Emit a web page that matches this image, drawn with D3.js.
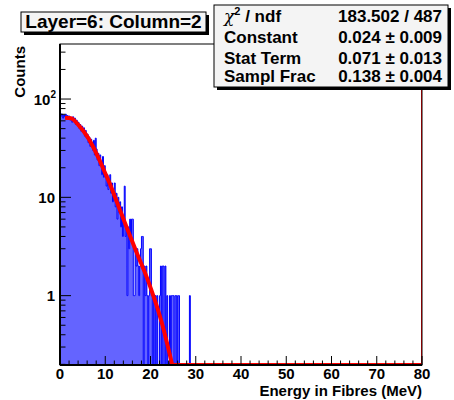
<!DOCTYPE html>
<html>
<head>
<meta charset="utf-8">
<script src="https://cdn.jsdelivr.net/npm/d3@7"></script>
<style>
  body { margin: 0; background: #fff; }
  svg { display: block; }
  text { font-family: "Liberation Sans", Arial, Helvetica, sans-serif; font-weight: bold; fill: #000; }
</style>
</head>
<body>
<svg id="chart" width="454" height="400"></svg>
<script>
// Histogram: energy deposited in fibres, 0.2 MeV bins starting at 0 (bins past the list are empty)
const binWidth = 0.2;
const xMax = 80;
const counts = [
  72, 67, 70, 64, 69,   66, 70, 63, 68, 65,   67, 61, 64, 58, 66,   60, 64, 55, 61, 57,
  58, 50, 55, 47, 53,   46, 51, 42, 48, 40,   44, 36, 41, 33, 39,   35, 30, 38, 27, 40,
  31, 24, 28, 21, 27,   22, 17, 26, 16, 21,   18, 13, 17, 12, 15,   17, 11, 14,  9, 12,
  14,  8, 11,  6, 10,    7,  9,  5,  8,  4,    6, 13,  4,  5,  1,    5,  3,  6,  4,  6,
   6,  1,  1,  3,  2,    3,  2,  1,  2,  3,    4,  4,  0,  2,  1,    2,  1,  0,  1,  3,
   3,  1,  0,  1,  0,    1,  0,  1,  0,  0,    1,  2,  0,  2,  2,    0,  2,  0,  1,  0,
   0,  1,  0,  1,  1,    1,  0,  1,  1,  0,    1,  1,  0,  0,  0,    0,  0,  0,  0,  0,
   0,  0,  0,  1,  0
];

// Fitted resolution curve, sampled along its length (energy, counts)
const fitEnergy = [1.1, 2.4, 4.0, 6.25, 8.45, 9.9, 11.0, 12.1, 14.7, 17.0, 19.1, 20.2, 22.5, 24.8];
const fitCounts = [64.5, 63.7, 55, 40, 25.5, 18, 13.8, 10.2, 5.0, 2.7, 1.57, 1.14, 0.53, 0.197];

const xTickValues = [0, 10, 20, 30, 40, 50, 60, 70, 80];
const yDecades = [1, 10, 100];
const yRange = [0.197, 363];

const titleText = "Layer=6: Column=2";
const statLabels = ["χ2 / ndf", "Constant", "Stat Term", "Sampl Frac"];
const statValues = ["183.502 / 487", "0.024 ± 0.009", "0.071 ± 0.013", "0.138 ± 0.004"];

const svg = d3.select("#chart");
const frame = { left: 60, right: 422, top: 44, bottom: 365 };

const x = d3.scaleLinear().domain([0, xMax]).range([frame.left, frame.right]);
const y = d3.scaleLog().domain(yRange).range([frame.bottom, frame.top]);
const yFloor = y(yRange[0]);

svg.append("defs").append("clipPath").attr("id", "plotClip")
  .append("rect")
  .attr("x", frame.left).attr("y", frame.top)
  .attr("width", frame.right - frame.left).attr("height", frame.bottom - frame.top);

const plot = svg.append("g").attr("clip-path", "url(#plotClip)");

// Step outline of the histogram; empty bins drop to the axis floor
const nBins = Math.round(xMax / binWidth);
const steps = [[x(0), yFloor]];
for (let i = 0; i < nBins; i++) {
  const v = counts[i] || 0;
  const yy = v > 0 ? y(Math.max(v, yRange[0])) : yFloor;
  steps.push([x(i * binWidth), yy], [x((i + 1) * binWidth), yy]);
}
steps.push([x(xMax), yFloor]);

const line = d3.line();
plot.append("path")
  .attr("d", line(steps) + "Z")
  .attr("fill", "#6464ff")
  .attr("stroke", "none");
plot.append("path")
  .attr("d", line(steps))
  .attr("fill", "none")
  .attr("stroke", "#0000ff")
  .attr("stroke-width", 1);

// Fit function
const fitPts = fitEnergy.map((e, i) => [x(e), y(fitCounts[i])]);
plot.append("path")
  .attr("d", d3.line().curve(d3.curveMonotoneX)(fitPts))
  .attr("fill", "none")
  .attr("stroke", "#ff0000")
  .attr("stroke-width", 4);

// Part of the function below the axis range, drawn along the floor and the right edge
const lastE = fitEnergy[fitEnergy.length - 1];
svg.append("path")
  .attr("d", d3.line()([[x(lastE), yFloor - 1.5], [x(xMax) - 0.5, yFloor - 1.5], [x(xMax) - 0.5, frame.top]]))
  .attr("fill", "none")
  .attr("stroke", "#ff0000")
  .attr("stroke-width", 1);

// Frame
svg.append("rect")
  .attr("x", frame.left).attr("y", frame.top)
  .attr("width", frame.right - frame.left).attr("height", frame.bottom - frame.top)
  .attr("fill", "none").attr("stroke", "#000").attr("stroke-width", 1);
svg.append("line")
  .attr("x1", frame.left).attr("x2", frame.left)
  .attr("y1", frame.top).attr("y2", frame.bottom)
  .attr("stroke", "#000").attr("stroke-width", 2);
svg.append("line")
  .attr("x1", frame.left).attr("x2", frame.right)
  .attr("y1", frame.bottom).attr("y2", frame.bottom)
  .attr("stroke", "#000").attr("stroke-width", 2);

// X axis ticks (inside, pointing up)
const axes = svg.append("g").attr("stroke", "#000").attr("stroke-width", 1);
for (let v = 0; v <= xMax; v += 2) {
  const major = v % 10 === 0;
  axes.append("line")
    .attr("x1", x(v)).attr("x2", x(v))
    .attr("y1", frame.bottom).attr("y2", frame.bottom - (major ? 9 : 4.5));
}
svg.append("g").selectAll("text").data(xTickValues).join("text")
  .attr("x", d => x(d)).attr("y", 378.5)
  .attr("text-anchor", "middle")
  .attr("font-size", 15)
  .text(d => d);

// Y axis ticks (log, inside, pointing right)
const yTicks = [];
for (let dec = 0.1; dec <= 100; dec *= 10) {
  for (let m = 1; m <= 9; m++) {
    const v = +(m * dec).toPrecision(3);
    if (v >= yRange[0] && v <= yRange[1]) yTicks.push({ v, major: m === 1 });
  }
}
yTicks.forEach(t => {
  axes.append("line")
    .attr("x1", frame.left).attr("x2", frame.left + (t.major ? 11 : 5.5))
    .attr("y1", y(t.v)).attr("y2", y(t.v));
});
const yLab = svg.append("g").selectAll("text").data(yDecades).join("text")
  .attr("x", 55)
  .attr("y", d => y(d) + 5.5)
  .attr("text-anchor", "end")
  .attr("font-size", 15);
yLab.each(function(d) {
  const t = d3.select(this);
  if (d >= 100) {
    t.append("tspan").text("10");
    t.append("tspan").attr("font-size", 10).attr("dy", -7).text(Math.round(Math.log10(d)));
    t.attr("x", 56);
  } else {
    t.text(d);
  }
});

// Axis titles
svg.append("text")
  .attr("x", frame.right).attr("y", 396)
  .attr("text-anchor", "end")
  .attr("font-size", 15)
  .text("Energy in Fibres (MeV)");
svg.append("text")
  .attr("transform", `translate(25,${frame.top + 2}) rotate(-90)`)
  .attr("text-anchor", "end")
  .attr("font-size", 15)
  .text("Counts");

// Title box with shadow
const tb = { x: 21, y: 12, w: 185, h: 20 };
svg.append("rect").attr("x", tb.x + 3).attr("y", tb.y + 3).attr("width", tb.w).attr("height", tb.h).attr("fill", "#000");
svg.append("rect").attr("x", tb.x).attr("y", tb.y).attr("width", tb.w).attr("height", tb.h)
  .attr("fill", "#f4f4f4").attr("stroke", "#000").attr("stroke-width", 1);
svg.append("text")
  .attr("x", tb.x + tb.w / 2).attr("y", tb.y + 15.5)
  .attr("text-anchor", "middle")
  .attr("font-size", 19)
  .text(titleText);

// Statistics box with shadow
const sb = { x: 214, y: 5, w: 234, h: 82 };
svg.append("rect").attr("x", sb.x + 3).attr("y", sb.y + 3).attr("width", sb.w).attr("height", sb.h).attr("fill", "#000");
svg.append("rect").attr("x", sb.x).attr("y", sb.y).attr("width", sb.w).attr("height", sb.h)
  .attr("fill", "#f4f4f4").attr("stroke", "#000").attr("stroke-width", 1);
const rowBase = [22, 43, 64, 82];
statLabels.forEach((lab, i) => {
  const t = svg.append("text")
    .attr("x", 224).attr("y", rowBase[i])
    .attr("font-size", 17);
  if (i === 0) {
    t.append("tspan").attr("font-weight", "normal").attr("font-family", "DejaVu Serif").attr("font-style", "italic").text("χ");
    t.append("tspan").attr("font-size", 11).attr("dy", -7).text("2");
    t.append("tspan").attr("dy", 7).text(" / ndf");
  } else {
    t.text(lab);
  }
  svg.append("text")
    .attr("x", 442).attr("y", rowBase[i])
    .attr("text-anchor", "end")
    .attr("font-size", 17)
    .text(statValues[i]);
});
</script>
</body>
</html>
